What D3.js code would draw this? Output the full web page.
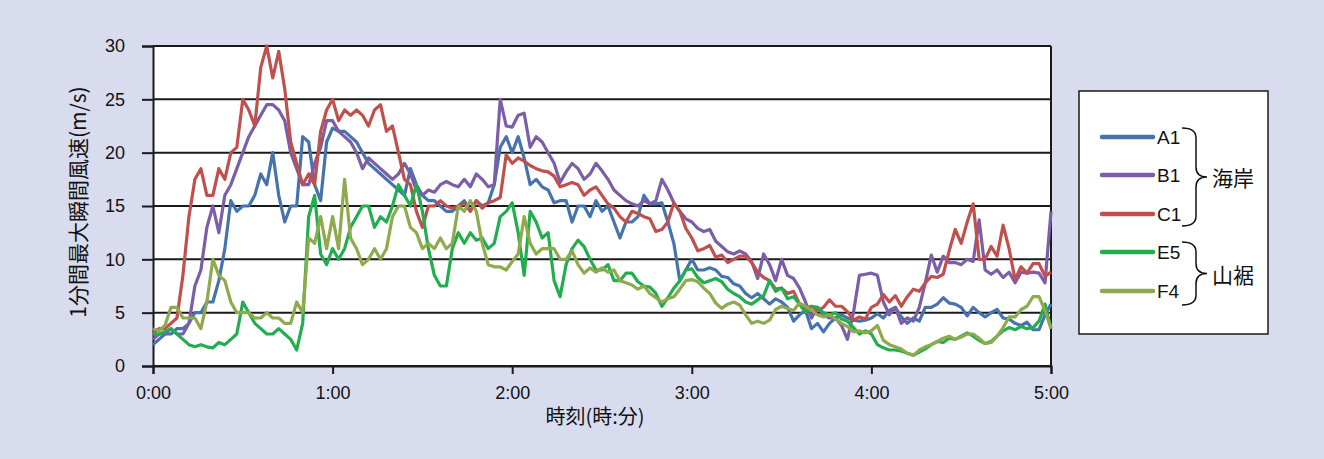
<!DOCTYPE html>
<html lang="ja">
<head>
    <meta charset="UTF-8">
    <title>1分間最大瞬間風速</title>
    <script src="https://d3js.org/d3.v7.min.js" charset="utf-8"></script>
    <style>
        body {
            margin: 0;
            background: #d9dbee;
        }
        svg {
            display: block;
        }
    </style>
</head>
<body>
    <div id="chart"></div>
    <script>
        var svgwidth = 1324;
        var svgheight = 459;

        // sample times in minutes (one sample every 2 minutes, 0:00 - 5:00)
        var minutes = d3.range(0, 301, 2);

        // x axis tick positions (minutes) and labels
        var hourTicks = [0, 60, 120, 180, 240, 300];
        var hourLabels = ['0:00', '1:00', '2:00', '3:00', '4:00', '5:00'];
        var speedTicks = [0, 5, 10, 15, 20, 25, 30];

        var seriesNames = ['A1', 'B1', 'C1', 'E5', 'F4'];
        var seriesColors = ['#4673ae', '#7b5ea7', '#c0504d', '#22ae4e', '#8eaa4c'];

        // values (m/s)
        var a1 = [
            2, 2.5, 3, 3, 3.5, 3.5, 4, 5, 5, 6, 6, 8, 11, 15.5, 14.5, 15, 15, 16, 18, 17, 20, 16, 13.5, 15, 15, 21.5, 21,
            17, 15.5, 21, 22.3, 22, 22, 21.5, 21, 20, 19, 18.5, 18, 17.5, 17, 16.5, 16, 18.5, 17, 16, 15.5, 15.5, 15, 14.5, 14.5, 15, 15.5,
            14.5, 15.5, 15, 15.3, 17, 20.5, 21.5, 20, 21.5, 19.5, 17, 17.5, 16.8, 16.5, 15.3, 15.5, 15.5, 13.5, 15, 15, 14, 15.5,
            14.5, 15, 13.5, 12, 13.5, 13.5, 14, 16, 15.2, 15.2, 15.3, 13.5, 11.5, 8, 9, 10, 9, 9, 9.2, 9, 8.4, 8.3, 7.7, 7.5, 6.8,
            6.4, 6.8, 6.3, 5.8, 6.3, 6, 5.5, 4.2, 4.8, 5.2, 3.5, 4, 3.2, 4, 4.5, 4.8, 4.5, 4.3, 4.2, 4.3, 4.5, 4.9, 4.5, 5.2, 5.5,
            4.6, 4, 4.5, 4.2, 5.5, 5.5, 5.8, 6.4, 5.9, 5.8, 5.5, 4.7, 5.5, 5, 4.6, 5, 5.3, 4.5, 4.4, 4, 3.8, 4.1, 3.4, 3.4, 4.8, 5.8
        ];
        var b1 = [
            2.5, 3, 3, 3.5, 3, 3, 4, 7.5, 9, 13, 15, 12.5, 16, 17, 18.5, 20, 21.5, 22.5, 23.5, 24.5, 24.5, 24, 23, 20, 18.5, 17, 17,
            19, 20.5, 23, 23, 22, 21.5, 21, 20, 18.5, 19.5, 19, 18.5, 18, 17.5, 18, 19, 18, 16.5, 16, 16.5, 16.3, 17, 17.3, 17, 16.8, 17.5,
            16.8, 18, 17.5, 16.8, 17, 25, 22.5, 22.4, 23.5, 23.7, 20.5, 21.5, 21, 20, 19, 17.2, 18.2, 19, 18.5, 17.5, 18, 19,
            18.3, 17.5, 16.5, 16, 15.5, 15.2, 15, 15.5, 15.2, 15.5, 17.5, 16.5, 15.3, 14.5, 13.8, 13.5, 12.9, 12.6, 12.8, 11.7, 11.2, 10.7, 10.5, 10.8, 10.5,
            9.8, 8.2, 10.5, 9.5, 8, 10, 8.5, 8.2, 7.3, 6, 4.5, 5.5, 4.8, 4.5, 4.5, 3.8, 2.5, 5, 8.5, 8.6, 8.7, 8.5, 6, 4.8, 5.5,
            4, 4.5, 4.2, 5.5, 7.8, 10.4, 8.8, 10.3, 9.7, 9.7, 9.5, 10, 9.8, 13.7, 9, 8.6, 9, 8.3, 8.8, 7.8, 8.8, 8.7, 8.8, 8.7, 7.8, 14.5
        ];
        var c1 = [
            3, 3.5, 3.5, 4, 4.5, 8.5, 14, 17.5, 18.5, 16, 16, 18.5, 17.5, 20, 20.5, 25, 24, 22.5, 28, 30, 27, 29.5, 26, 21, 19, 17, 18,
            17, 22, 24, 25, 23, 24, 23.5, 24, 23.5, 22.5, 24, 24.5, 22, 22.5, 20, 17.5, 17, 14.5, 13, 15, 15, 15.5, 15, 14.8, 15, 15.2,
            14.5, 15.5, 14.8, 15.3, 15.5, 15.8, 19.8, 19, 19.5, 19.2, 18.8, 18.5, 18.3, 18.2, 17.8, 16.8, 17, 17.2, 17, 16, 16.5, 16.8,
            16, 15.2, 14.8, 14, 13.5, 14.5, 14.3, 14, 13.8, 12.6, 12.8, 13.5, 15.3, 14.5, 12.9, 12, 10.8, 11, 11.3, 10.2, 10.4, 9.7, 10, 10.3, 10.3,
            9.7, 8.8, 8.3, 8, 7.2, 7.3, 6.8, 7, 5.8, 5.4, 5.6, 5.2, 5.5, 6.2, 5.6, 5.6, 5.1, 4.3, 4.6, 4.4, 5.5, 5.8, 6.7, 6, 6.6,
            5.6, 6.5, 7.2, 7, 7.8, 8.4, 8.3, 8.6, 10.8, 12.8, 11.5, 13.5, 15.2, 10, 10, 11.2, 10.3, 13.2, 11, 8.1, 9.3, 8.7, 9.6, 9.6, 8.4, 8.8
        ];
        var e5 = [
            3, 3, 3.2, 3.5, 3, 2.5, 2, 1.8, 2, 1.8, 1.7, 2.2, 2, 2.5, 3, 6, 5, 4, 3.5, 3, 3, 3.5, 3, 2.5, 1.5, 4, 14,
            16, 10.5, 9.5, 11, 10, 11, 13, 14, 15, 15, 13, 14, 13.5, 15, 17, 16, 15, 17, 14.5, 11, 8.5, 7.5, 7.5, 11, 12.5, 11.5,
            12.5, 11.8, 12, 11, 11.5, 14, 14.5, 15.3, 12.5, 8.5, 14.5, 13.5, 12, 12.5, 8, 6.5, 9.5, 11, 11.8, 11.2, 10, 9,
            9, 9.5, 8, 8, 8.7, 8.7, 7.9, 7.5, 7.4, 6.8, 5.6, 6.4, 7.3, 8, 9, 9.1, 8.3, 7.8, 8, 8.2, 7.9, 7.2, 6.8, 6.5, 6,
            5.8, 6.2, 6.6, 8, 7, 7.3, 6.3, 6.5, 5.8, 5, 5.6, 5.5, 5, 4.8, 5, 4.4, 4.2, 3.6, 3, 3.3, 3, 2, 1.7, 1.5, 1.5,
            1.4, 1.2, 1, 1.3, 1.6, 2, 2.3, 2.2, 2.6, 2.5, 2.8, 3.1, 2.8, 2.4, 2.1, 2.3, 2.8, 3.3, 3.6, 3.4, 3.7, 3.5, 3.6, 4.2, 5.8, 3.5
        ];
        var f4 = [
            3.5, 3.3, 3.8, 5.5, 5.5, 4.5, 4.5, 4.5, 3.5, 6, 10, 8.5, 8, 6, 5, 5, 5, 4.5, 4.5, 5, 4.5, 4.5, 4, 4, 6, 5, 12,
            11.5, 14, 11, 14, 11, 17.5, 12, 11, 9.5, 10, 11, 10, 11, 14, 15, 15, 13, 12.5, 11, 11.5, 11, 12, 11, 11.5, 15, 14.5,
            15.5, 14.5, 11.5, 9.5, 9.3, 9.3, 9, 9.8, 10.5, 14, 11.5, 10.5, 11, 11, 11, 10, 10, 10.8, 9.5, 8.7, 9.2, 8.8,
            9.2, 8.8, 9, 8, 7.8, 7.6, 7.2, 7.5, 6.8, 6.4, 6, 6.3, 6.5, 7.2, 8, 8.1, 7.9, 7.3, 6.8, 5.9, 5.4, 5.8, 6, 5.7, 4.8,
            4, 4.2, 4, 4.3, 5.3, 5.6, 5.4, 5.2, 5.9, 5.6, 5.2, 4.8, 4.6, 4.8, 4.4, 4, 3.7, 3.2, 3.3, 3.1, 3.3, 3.8, 2.4, 2, 1.8,
            1.6, 1.2, 1, 1.5, 1.8, 2, 2.3, 2.6, 2.8, 2.5, 2.7, 3, 3, 2.6, 2.1, 2.2, 2.8, 3.6, 4.6, 4.6, 5.3, 5.6, 6.5, 6.5, 5.2, 3.5
        ];
        var seriesValues = [a1, b1, c1, e5, f4];

        var svg = d3.select('#chart').append('svg')
            .attr('width', svgwidth)
            .attr('height', svgheight);

        // background
        svg.append('rect')
            .attr('width', svgwidth)
            .attr('height', svgheight)
            .attr('fill', '#d9dbee');

        // scales
        var x_scale = d3.scaleLinear().domain([0, 300]).range([153, 1051]);
        var y_scale = d3.scaleLinear().domain([0, 30]).range([366, 46]);

        // plot area
        svg.append('rect')
            .attr('x', x_scale(0))
            .attr('y', y_scale(30))
            .attr('width', x_scale(300) - x_scale(0))
            .attr('height', y_scale(0) - y_scale(30))
            .attr('fill', '#ffffff');

        // horizontal grid lines
        svg.append('g')
            .selectAll('line')
            .data(speedTicks)
            .join('line')
            .attr('x1', x_scale(0))
            .attr('x2', x_scale(300))
            .attr('y1', d => y_scale(d))
            .attr('y2', d => y_scale(d))
            .attr('stroke', '#1a1a1a')
            .attr('stroke-width', 2);

        // right border
        svg.append('line')
            .attr('x1', x_scale(300)).attr('x2', x_scale(300))
            .attr('y1', y_scale(30)).attr('y2', y_scale(0))
            .attr('stroke', '#1a1a1a')
            .attr('stroke-width', 2);

        // y axis
        var yAxis = svg.append('g')
            .attr('transform', 'translate(' + x_scale(0) + ',0)')
            .call(d3.axisLeft(y_scale).tickValues(speedTicks).tickSize(11).tickPadding(17));
        yAxis.selectAll('line, path').attr('stroke', '#1a1a1a').attr('stroke-width', 2);
        yAxis.selectAll('text')
            .attr('fill', '#111')
            .style('font-family', '"Liberation Sans", Arial, sans-serif')
            .style('font-size', '18px');

        // x axis
        var xAxis = svg.append('g')
            .attr('transform', 'translate(0,' + y_scale(0) + ')')
            .call(d3.axisBottom(x_scale).tickValues(hourTicks)
                .tickFormat((d, i) => hourLabels[i])
                .tickSize(8).tickPadding(12));
        xAxis.selectAll('line, path').attr('stroke', '#1a1a1a').attr('stroke-width', 2);
        xAxis.selectAll('text')
            .attr('fill', '#111')
            .style('font-family', '"Liberation Sans", Arial, sans-serif')
            .style('font-size', '18px');

        // series lines
        var line = d3.line()
            .x((d, i) => x_scale(minutes[i]))
            .y(d => y_scale(d));

        svg.append('g')
            .selectAll('path')
            .data(seriesValues)
            .join('path')
            .attr('d', d => line(d))
            .attr('fill', 'none')
            .attr('stroke', (d, i) => seriesColors[i])
            .attr('stroke-width', 3.2)
            .attr('stroke-linejoin', 'round');

        // axis titles
        svg.append('text')
            .attr('transform', 'translate(77,202) rotate(-90)')
            .attr('text-anchor', 'middle')
            .attr('dominant-baseline', 'central')
            .style('font-family', '"Noto Sans CJK JP", sans-serif')
            .style('font-size', '21px')
            .attr('fill', '#111')
            .text('1分間最大瞬間風速(m/s)');

        svg.append('text')
            .attr('x', 595)
            .attr('y', 415)
            .attr('text-anchor', 'middle')
            .attr('dominant-baseline', 'central')
            .style('font-family', '"Noto Sans CJK JP", sans-serif')
            .style('font-size', '20px')
            .attr('fill', '#111')
            .text('時刻(時:分)');

        // legend
        var legend = svg.append('g');
        legend.append('rect')
            .attr('x', 1079)
            .attr('y', 91)
            .attr('width', 189)
            .attr('height', 243)
            .attr('fill', '#ffffff')
            .attr('stroke', '#1a1a1a')
            .attr('stroke-width', 1.5);

        var legendY = [137, 175, 214, 252, 291];
        var rows = legend.selectAll('g.row')
            .data(seriesNames)
            .join('g')
            .attr('class', 'row')
            .attr('transform', (d, i) => 'translate(0,' + legendY[i] + ')');
        rows.append('line')
            .attr('x1', 1102).attr('x2', 1153)
            .attr('stroke', (d, i) => seriesColors[i])
            .attr('stroke-width', 4.5)
            .attr('stroke-linecap', 'round');
        rows.append('text')
            .attr('x', 1157)
            .attr('dominant-baseline', 'central')
            .style('font-family', '"Liberation Sans", Arial, sans-serif')
            .style('font-size', '19px')
            .attr('fill', '#111')
            .text(d => d);

        // curly braces grouping the stations
        function brace(y1, y2) {
            var x0 = 1182, x1 = 1196, x2 = 1207, r = 10, ym = (y1 + y2) / 2;
            return 'M' + x0 + ',' + y1 +
                ' Q' + x1 + ',' + y1 + ' ' + x1 + ',' + (y1 + r) +
                ' L' + x1 + ',' + (ym - r) +
                ' Q' + x1 + ',' + ym + ' ' + x2 + ',' + ym +
                ' Q' + x1 + ',' + ym + ' ' + x1 + ',' + (ym + r) +
                ' L' + x1 + ',' + (y2 - r) +
                ' Q' + x1 + ',' + y2 + ' ' + x0 + ',' + y2;
        }
        var groups = [
            { name: '海岸', y1: 128, y2: 226 },
            { name: '山裾', y1: 242, y2: 305 }
        ];
        groups.forEach(function(g) {
            legend.append('path')
                .attr('d', brace(g.y1, g.y2))
                .attr('fill', 'none')
                .attr('stroke', '#111')
                .attr('stroke-width', 1.5);
            legend.append('text')
                .attr('x', 1212)
                .attr('y', (g.y1 + g.y2) / 2)
                .attr('dominant-baseline', 'central')
                .style('font-family', '"Noto Sans CJK JP", sans-serif')
                .style('font-size', '21px')
                .attr('fill', '#111')
                .text(g.name);
        });
    </script>
</body>
</html>
